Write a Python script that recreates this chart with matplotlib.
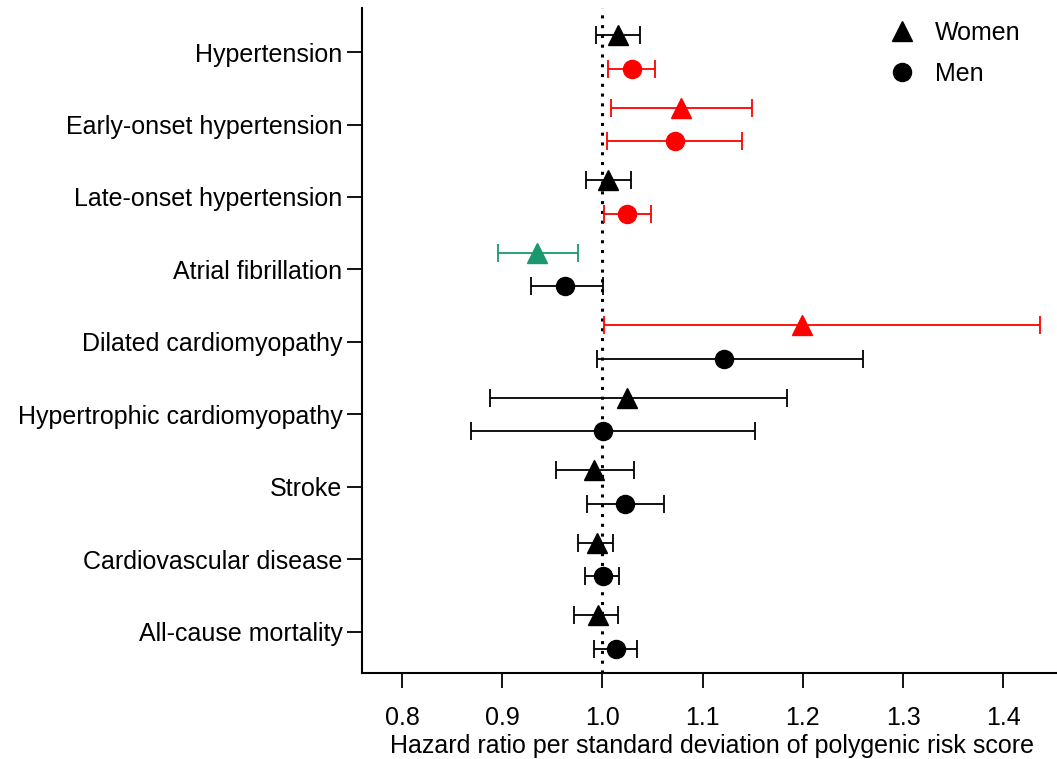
import numpy as np
import matplotlib.pyplot as plt
from matplotlib.lines import Line2D

plt.rcParams['font.family'] = ['Liberation Sans', 'DejaVu Sans']

# outcomes, top to bottom
outcomes = ['Hypertension', 'Early-onset hypertension', 'Late-onset hypertension',
            'Atrial fibrillation', 'Dilated cardiomyopathy',
            'Hypertrophic cardiomyopathy', 'Stroke', 'Cardiovascular disease',
            'All-cause mortality']

# hazard ratios and 95% CI, women
hr_w = [1.016, 1.078, 1.006, 0.935, 1.199, 1.025, 0.992, 0.995, 0.996]
lo_w = [0.994, 1.009, 0.984, 0.896, 1.002, 0.888, 0.954, 0.976, 0.972]
hi_w = [1.037, 1.149, 1.028, 0.976, 1.437, 1.184, 1.031, 1.011, 1.016]

# men
hr_m = [1.029, 1.072, 1.025, 0.963, 1.121, 1.001, 1.023, 1.001, 1.014]
lo_m = [1.006, 1.005, 1.002, 0.929, 0.995, 0.869, 0.985, 0.983, 0.992]
hi_m = [1.052, 1.139, 1.048, 1.001, 1.260, 1.152, 1.061, 1.017, 1.034]

xticks = [0.8, 0.9, 1.0, 1.1, 1.2, 1.3, 1.4]


def colour(lo, hi):
    # red = risk up, green = risk down, black = overlaps 1
    if lo > 1:
        return '#ff0000'
    if hi < 1:
        return '#1a9970'
    return 'black'


fig = plt.figure(figsize=(10.57, 7.59), dpi=100)
ax = fig.add_axes([362 / 1057, 1 - 673 / 759, 1 - 362 / 1057, 665 / 759])

ypos = np.arange(len(outcomes))
off = 0.23

ax.axvline(1.0, color='black', ls=(0, (1, 2.2)), lw=2.2, zorder=1)

for marker, hr, lo, hi, dy in [('^', hr_w, lo_w, hi_w, -off),
                               ('o', hr_m, lo_m, hi_m, off)]:
    for i in range(len(outcomes)):
        c = colour(lo[i], hi[i])
        ax.errorbar(hr[i], ypos[i] + dy,
                    xerr=[[hr[i] - lo[i]], [hi[i] - hr[i]]],
                    fmt=marker, color=c, ecolor=c, ms=13 if marker == 'o' else 14,
                    elinewidth=1.3, capsize=6.5, capthick=1.3, zorder=3)

ax.set_xlim(0.76, 1.4537)
ax.set_ylim(len(outcomes) - 1 + 0.566, -0.607)
ax.set_yticks(ypos)
ax.set_yticklabels(outcomes)
ax.set_xticks(xticks)
ax.set_xticklabels(['%.1f' % t for t in xticks])
ax.tick_params(axis='both', labelsize=18, length=11, width=1.3, direction='out',
               colors='black', pad=3)
ax.tick_params(axis='x', pad=13)
for s in ['top', 'right']:
    ax.spines[s].set_visible(False)
for s in ['left', 'bottom']:
    ax.spines[s].set_linewidth(1.5)

ax.set_xlabel('Hazard ratio per standard deviation of polygenic risk score',
              fontsize=18)
ax.xaxis.set_label_coords(0.504, -0.092)

handles = [Line2D([], [], marker='^', color='black', ls='none', ms=14),
           Line2D([], [], marker='o', color='black', ls='none', ms=13)]
ax.legend(handles, ['Women', 'Men'], loc='upper left', bbox_to_anchor=(0.708, 1.014),
          frameon=False, fontsize=18, handletextpad=0.32, labelspacing=0.68)

plt.savefig('out.png', dpi=100, facecolor='white')
